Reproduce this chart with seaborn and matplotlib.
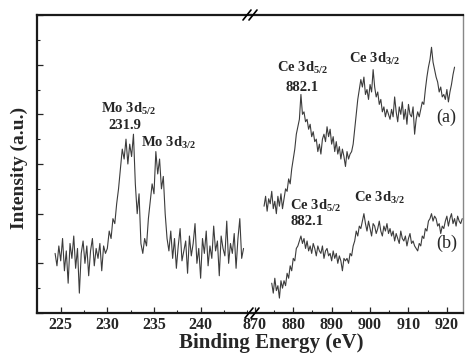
import matplotlib
matplotlib.use('Agg')
import matplotlib.pyplot as plt
from matplotlib.ticker import MultipleLocator, NullFormatter
import seaborn as sns
import numpy as np
import pandas as pd

# Mo 3d region, 0.2 eV step
mo_start, mo_step = 224.4, 0.2
mo_counts = [24, 19, 27, 21, 30, 17, 25, 12, 28, 22, 31, 18, 26, 8, 24, 29, 20, 27, 15, 25,
             30, 19, 26, 22, 28, 17, 27, 24,
             26, 33, 30, 38, 36, 44, 50, 58, 66, 62,
             70, 60, 68, 63, 72,
             52, 40, 48, 28, 24,
             30, 27, 38, 45, 52, 48,
             65, 56, 62, 50, 55,
             40, 30, 25, 33,
             22, 30, 18, 27, 34, 21, 25, 29, 16, 31, 23, 28, 36, 20, 26, 14, 30, 24, 33, 19,
             27, 22, 35, 25, 29, 15, 31, 26, 23, 37, 20, 28, 24, 32, 18, 30, 38, 22, 26]

# Ce 3d region, sample (a), 0.4 eV step
ce_a_start, ce_step = 872.4, 0.4
ce_a_counts = [43, 47, 41, 46, 44, 49, 42, 45, 40, 47, 43, 48, 42, 46, 50,
               49, 54, 52, 58, 62, 66, 72, 75, 78,
               88, 80, 81,
               77, 78, 74, 76, 71, 73, 69, 70,
               65, 68, 64, 70,
               72, 69, 75, 71, 74,
               68, 71, 65, 69, 64, 67, 62, 66, 63, 59, 65, 62, 64,
               65, 68, 74, 80, 86, 90,
               94, 91, 95, 88, 90, 86, 92, 89, 98, 91,
               87, 89, 84, 86, 81, 83, 79, 82, 80, 78,
               82, 79, 87, 81, 77, 83, 80, 85, 78, 82, 76, 84, 80, 79, 83, 72, 78, 81, 79,
               82, 85, 84, 90, 95,
               99, 102, 107, 101,
               98, 95, 93, 89, 91, 87, 88,
               86, 90, 85, 89,
               92, 96, 99]

# Ce 3d region, sample (b)
ce_b_start = 874.4
ce_b_counts = [12, 8, 14, 9, 11, 6, 13, 10,
               13, 11, 16, 14, 19, 17, 22, 21, 26,
               27, 29, 31, 28, 30,
               26, 29, 25, 27, 24, 28, 26, 23, 27, 25, 24, 27, 22, 25, 26, 23, 24, 21, 25, 22,
               24, 20, 23, 21, 17, 22, 21,
               22, 20, 24, 23, 27, 29, 33,
               31, 35, 34, 37, 40,
               36, 33, 37, 34, 31, 36, 35, 32, 34, 37, 33, 31, 35, 33, 36, 32, 34,
               31, 33, 29, 32, 30, 28, 33, 30, 29, 31, 27, 30, 32, 28, 29, 27, 26,
               25, 28, 27, 31, 30, 34, 33, 37, 38,
               40, 37, 39, 38,
               35, 36, 32, 35, 34,
               37, 39, 35, 38, 40, 36, 38, 35, 39, 37, 36, 38]

left_ticks = [225, 230, 235, 240]
right_ticks = [870, 880, 890, 900, 910, 920]


def energy_grid(start, step, n):
    return start + step * np.arange(n)


mo_df = pd.DataFrame({'BE': energy_grid(mo_start, mo_step, len(mo_counts)), 'I': mo_counts})
a_df = pd.DataFrame({'BE': energy_grid(ce_a_start, ce_step, len(ce_a_counts)), 'I': ce_a_counts})
b_df = pd.DataFrame({'BE': energy_grid(ce_b_start, ce_step, len(ce_b_counts)), 'I': ce_b_counts})

sns.set_style('ticks')
plt.rcParams['font.family'] = ['Liberation Serif', 'DejaVu Serif']
plt.rcParams['mathtext.fontset'] = 'custom'
plt.rcParams['mathtext.rm'] = 'Liberation Serif:bold'
plt.rcParams['mathtext.bf'] = 'Liberation Serif:bold'
plt.rcParams['mathtext.default'] = 'rm'

fig = plt.figure(figsize=(4.65, 3.62), dpi=100)
ax1 = fig.add_axes([37 / 465, 1 - 313 / 362, (251 - 37) / 465, 298 / 362])
ax2 = fig.add_axes([251 / 465, 1 - 313 / 362, (463 - 251) / 465, 298 / 362])

line_color = '#3c3c3c'
sns.lineplot(data=mo_df, x='BE', y='I', ax=ax1, color=line_color, linewidth=0.8)
sns.lineplot(data=a_df, x='BE', y='I', ax=ax2, color=line_color, linewidth=0.8)
sns.lineplot(data=b_df, x='BE', y='I', ax=ax2, color=line_color, linewidth=0.8)

ax1.set_xlim(222.46, 245.4)
ax2.set_xlim(869.0, 924.2)
for ax in (ax1, ax2):
    ax.set_ylim(0, 120)
    ax.set_xlabel('')
    ax.set_ylabel('')
    for s in ax.spines.values():
        s.set_linewidth(1.6)
        s.set_color('#1a1a1a')
ax1.spines['right'].set_visible(False)
ax2.spines['left'].set_visible(False)
ax2.spines['right'].set_linewidth(1.0)
ax2.spines['right'].set_color('#888888')

ax1.set_xticks(left_ticks)
ax1.xaxis.set_minor_locator(MultipleLocator(2.5))
ax2.set_xticks(right_ticks)
ax2.xaxis.set_minor_locator(MultipleLocator(5))
ax1.yaxis.set_major_locator(MultipleLocator(20))
ax1.yaxis.set_minor_locator(MultipleLocator(10))
ax1.yaxis.set_major_formatter(NullFormatter())
ax2.set_yticks([])
ax2.tick_params(axis='y', which='both', left=False, right=False)

for ax in (ax1, ax2):
    ax.tick_params(axis='both', which='major', direction='in', length=4.5, width=0.9,
                   labelsize=11.5, pad=3)
    ax.tick_params(axis='both', which='minor', direction='in', length=2.5, width=0.8)
    ax.tick_params(axis='x', which='both', top=False)
    for lab in ax.get_xticklabels():
        lab.set_fontweight('bold')

# peak labels
kw = dict(fontsize=10.5, fontweight='bold', va='baseline')
ax1.text(229.3, 80.7, r'Mo 3d$_{5/2}$', ha='left', **kw)
ax1.text(231.86, 74.0, '231.9', ha='center', **kw)
ax1.text(233.65, 67.0, r'Mo 3d$_{3/2}$', ha='left', **kw)
ax2.text(875.7, 97.2, r'Ce 3d$_{5/2}$', ha='left', **kw)
ax2.text(882.2, 89.2, '882.1', ha='center', **kw)
ax2.text(894.5, 100.6, r'Ce 3d$_{3/2}$', ha='left', **kw)
ax2.text(879.1, 41.6, r'Ce 3d$_{5/2}$', ha='left', **kw)
ax2.text(883.5, 35.5, '882.1', ha='center', **kw)
ax2.text(895.8, 44.9, r'Ce 3d$_{3/2}$', ha='left', **kw)
ax2.text(919.9, 77.1, '(a)', ha='center', va='baseline', fontsize=13)
ax2.text(919.9, 26.1, '(b)', ha='center', va='baseline', fontsize=13)

# axis break marks
for xc, yc in [(250, 15), (252, 313)]:
    for dx in (-3, 3):
        x0 = (xc + dx - 4) / 465
        x1 = (xc + dx + 4) / 465
        y0 = 1 - (yc + 5) / 362
        y1 = 1 - (yc - 5) / 362
        fig.add_artist(plt.Line2D([x0, x1], [y0, y1], color='black', linewidth=1.2,
                                  transform=fig.transFigure))

fig.text(271 / 465, 1 - 348 / 362, 'Binding Energy (eV)', ha='center', va='baseline',
         fontsize=15, fontweight='bold')
fig.text(19 / 465, 1 - 168 / 362, 'Intensity (a.u.)', ha='center', va='center',
         rotation=90, fontsize=14, fontweight='bold')

fig.savefig('out.png', dpi=100)
